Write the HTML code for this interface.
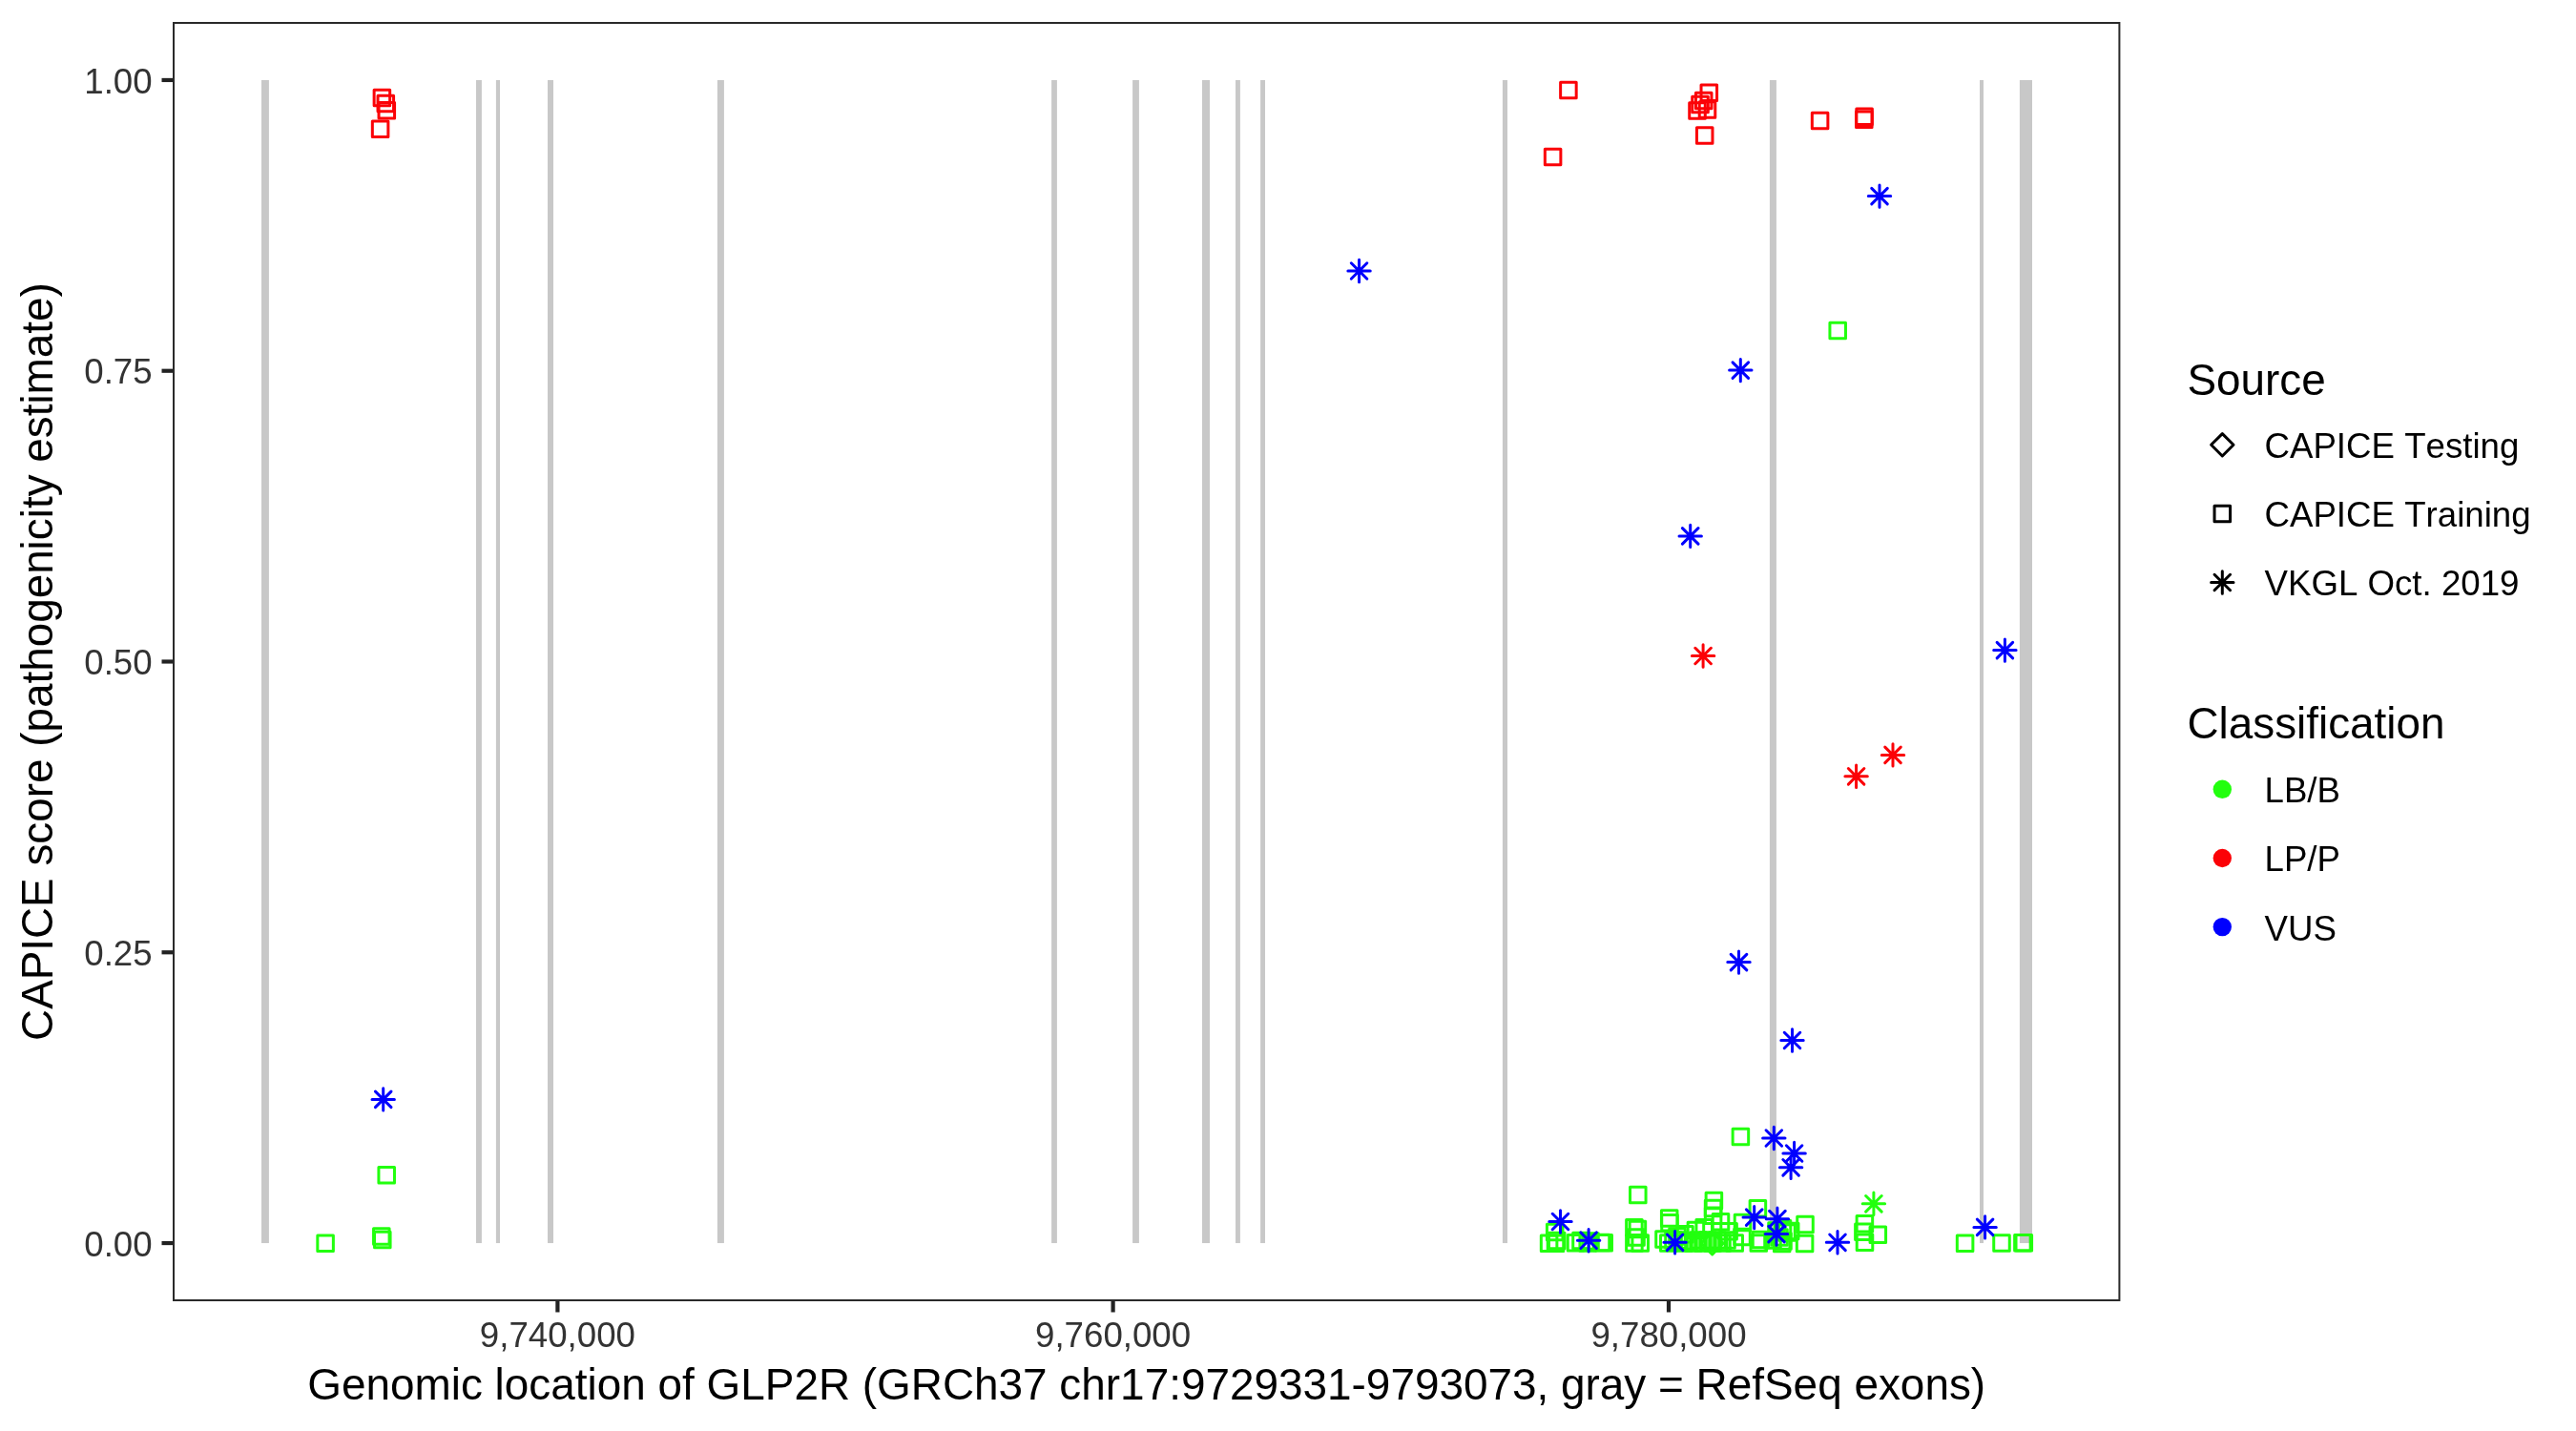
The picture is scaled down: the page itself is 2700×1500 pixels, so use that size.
<!DOCTYPE html><html><head><meta charset="utf-8"><style>html,body{margin:0;padding:0;background:#fff;overflow:hidden}svg{display:block;will-change:transform}text{font-family:"Liberation Sans",sans-serif;font-kerning:none}</style></head><body>
<svg width="2700" height="1500" viewBox="0 0 2700 1500">
<rect width="2700" height="1500" fill="#fff"/>
<g fill="#C8C8C8">
<rect x="274" y="83.95" width="7.9" height="1219.1"/>
<rect x="499" y="83.95" width="5.9" height="1219.1"/>
<rect x="519.9" y="83.95" width="4.1" height="1219.1"/>
<rect x="574" y="83.95" width="6" height="1219.1"/>
<rect x="751.9" y="83.95" width="7" height="1219.1"/>
<rect x="1102.1" y="83.95" width="5.8" height="1219.1"/>
<rect x="1187.1" y="83.95" width="6.8" height="1219.1"/>
<rect x="1260" y="83.95" width="8" height="1219.1"/>
<rect x="1295" y="83.95" width="4.9" height="1219.1"/>
<rect x="1321.1" y="83.95" width="4.9" height="1219.1"/>
<rect x="1574.9" y="83.95" width="5.1" height="1219.1"/>
<rect x="1854.9" y="83.95" width="7" height="1219.1"/>
<rect x="2075" y="83.95" width="4" height="1219.1"/>
<rect x="2116.9" y="83.95" width="13.1" height="1219.1"/>
</g>
<g fill="none" stroke-width="3.0" stroke-linejoin="round" stroke-linecap="round">
<rect x="392.13" y="94.23" width="16.54" height="16.54" stroke="#FB0207"/>
<rect x="396.03" y="100.13" width="16.54" height="16.54" stroke="#FB0207"/>
<rect x="397.03" y="107.43" width="16.54" height="16.54" stroke="#FB0207"/>
<rect x="390.33" y="127.03" width="16.54" height="16.54" stroke="#FB0207"/>
<rect x="1635.63" y="86.13" width="16.54" height="16.54" stroke="#FB0207"/>
<rect x="1619.33" y="156.33" width="16.54" height="16.54" stroke="#FB0207"/>
<rect x="1783.03" y="89.03" width="16.54" height="16.54" stroke="#FB0207"/>
<rect x="1777.43" y="97.13" width="16.54" height="16.54" stroke="#FB0207"/>
<rect x="1773.73" y="101.23" width="16.54" height="16.54" stroke="#FB0207"/>
<rect x="1770.73" y="107.73" width="16.54" height="16.54" stroke="#FB0207"/>
<rect x="1781.23" y="106.63" width="16.54" height="16.54" stroke="#FB0207"/>
<rect x="1778.43" y="133.73" width="16.54" height="16.54" stroke="#FB0207"/>
<rect x="1899.33" y="118.13" width="16.54" height="16.54" stroke="#FB0207"/>
<rect x="1945.83" y="114.03" width="16.54" height="16.54" stroke="#FB0207"/>
<rect x="1945.53" y="116.93" width="16.54" height="16.54" stroke="#FB0207"/>
<rect x="332.83" y="1294.93" width="16.54" height="16.54" stroke="#22FF0E"/>
<rect x="391.53" y="1287.73" width="16.54" height="16.54" stroke="#22FF0E"/>
<rect x="392.53" y="1291.13" width="16.54" height="16.54" stroke="#22FF0E"/>
<rect x="396.93" y="1223.43" width="16.54" height="16.54" stroke="#22FF0E"/>
<rect x="1917.93" y="338.13" width="16.54" height="16.54" stroke="#22FF0E"/>
<rect x="1816.13" y="1183.33" width="16.54" height="16.54" stroke="#22FF0E"/>
<rect x="1708.53" y="1244.33" width="16.54" height="16.54" stroke="#22FF0E"/>
<rect x="1615.33" y="1294.93" width="16.54" height="16.54" stroke="#22FF0E"/>
<rect x="1621.43" y="1283.23" width="16.54" height="16.54" stroke="#22FF0E"/>
<rect x="1622.23" y="1294.93" width="16.54" height="16.54" stroke="#22FF0E"/>
<rect x="1643.23" y="1294.53" width="16.54" height="16.54" stroke="#22FF0E"/>
<rect x="1655.93" y="1294.73" width="16.54" height="16.54" stroke="#22FF0E"/>
<rect x="1672.93" y="1294.53" width="16.54" height="16.54" stroke="#22FF0E"/>
<rect x="1623.43" y="1292.33" width="16.54" height="16.54" stroke="#22FF0E"/>
<rect x="1648.73" y="1292.33" width="16.54" height="16.54" stroke="#22FF0E"/>
<rect x="1670.23" y="1294.23" width="16.54" height="16.54" stroke="#22FF0E"/>
<rect x="1658.73" y="1292.73" width="16.54" height="16.54" stroke="#22FF0E"/>
<rect x="1704.63" y="1278.43" width="16.54" height="16.54" stroke="#22FF0E"/>
<rect x="1708.13" y="1280.23" width="16.54" height="16.54" stroke="#22FF0E"/>
<rect x="1706.73" y="1288.83" width="16.54" height="16.54" stroke="#22FF0E"/>
<rect x="1710.93" y="1294.83" width="16.54" height="16.54" stroke="#22FF0E"/>
<rect x="1704.63" y="1294.83" width="16.54" height="16.54" stroke="#22FF0E"/>
<rect x="1741.43" y="1268.63" width="16.54" height="16.54" stroke="#22FF0E"/>
<rect x="1741.73" y="1273.53" width="16.54" height="16.54" stroke="#22FF0E"/>
<rect x="1740.53" y="1294.83" width="16.54" height="16.54" stroke="#22FF0E"/>
<rect x="1757.73" y="1285.53" width="16.54" height="16.54" stroke="#22FF0E"/>
<rect x="1735.73" y="1290.73" width="16.54" height="16.54" stroke="#22FF0E"/>
<rect x="1745.73" y="1291.73" width="16.54" height="16.54" stroke="#22FF0E"/>
<rect x="1749.73" y="1287.73" width="16.54" height="16.54" stroke="#22FF0E"/>
<rect x="1751.73" y="1291.73" width="16.54" height="16.54" stroke="#22FF0E"/>
<rect x="1761.73" y="1292.73" width="16.54" height="16.54" stroke="#22FF0E"/>
<rect x="1771.73" y="1291.73" width="16.54" height="16.54" stroke="#22FF0E"/>
<rect x="1781.73" y="1291.73" width="16.54" height="16.54" stroke="#22FF0E"/>
<rect x="1791.73" y="1291.73" width="16.54" height="16.54" stroke="#22FF0E"/>
<rect x="1801.73" y="1291.73" width="16.54" height="16.54" stroke="#22FF0E"/>
<rect x="1817.73" y="1288.23" width="16.54" height="16.54" stroke="#22FF0E"/>
<rect x="1756.73" y="1294.73" width="16.54" height="16.54" stroke="#22FF0E"/>
<rect x="1766.73" y="1294.73" width="16.54" height="16.54" stroke="#22FF0E"/>
<rect x="1776.73" y="1294.73" width="16.54" height="16.54" stroke="#22FF0E"/>
<rect x="1786.73" y="1294.73" width="16.54" height="16.54" stroke="#22FF0E"/>
<rect x="1796.73" y="1294.73" width="16.54" height="16.54" stroke="#22FF0E"/>
<rect x="1769.13" y="1281.13" width="16.54" height="16.54" stroke="#22FF0E"/>
<rect x="1777.93" y="1278.43" width="16.54" height="16.54" stroke="#22FF0E"/>
<rect x="1788.13" y="1250.33" width="16.54" height="16.54" stroke="#22FF0E"/>
<rect x="1787.33" y="1258.13" width="16.54" height="16.54" stroke="#22FF0E"/>
<rect x="1787.33" y="1266.03" width="16.54" height="16.54" stroke="#22FF0E"/>
<rect x="1795.23" y="1272.43" width="16.54" height="16.54" stroke="#22FF0E"/>
<rect x="1818.23" y="1273.23" width="16.54" height="16.54" stroke="#22FF0E"/>
<rect x="1803.83" y="1282.53" width="16.54" height="16.54" stroke="#22FF0E"/>
<rect x="1809.93" y="1294.73" width="16.54" height="16.54" stroke="#22FF0E"/>
<rect x="1834.13" y="1258.43" width="16.54" height="16.54" stroke="#22FF0E"/>
<rect x="1835.03" y="1294.73" width="16.54" height="16.54" stroke="#22FF0E"/>
<rect x="1883.73" y="1275.33" width="16.54" height="16.54" stroke="#22FF0E"/>
<rect x="1883.33" y="1295.13" width="16.54" height="16.54" stroke="#22FF0E"/>
<rect x="1859.43" y="1295.13" width="16.54" height="16.54" stroke="#22FF0E"/>
<rect x="1868.43" y="1282.33" width="16.54" height="16.54" stroke="#22FF0E"/>
<rect x="1860.23" y="1279.53" width="16.54" height="16.54" stroke="#22FF0E"/>
<rect x="1837.23" y="1291.23" width="16.54" height="16.54" stroke="#22FF0E"/>
<rect x="1853.73" y="1281.73" width="16.54" height="16.54" stroke="#22FF0E"/>
<rect x="1856.73" y="1288.73" width="16.54" height="16.54" stroke="#22FF0E"/>
<rect x="1860.73" y="1292.73" width="16.54" height="16.54" stroke="#22FF0E"/>
<rect x="1864.73" y="1283.73" width="16.54" height="16.54" stroke="#22FF0E"/>
<rect x="1849.73" y="1291.73" width="16.54" height="16.54" stroke="#22FF0E"/>
<rect x="1946.13" y="1274.53" width="16.54" height="16.54" stroke="#22FF0E"/>
<rect x="1944.63" y="1283.03" width="16.54" height="16.54" stroke="#22FF0E"/>
<rect x="1946.23" y="1294.03" width="16.54" height="16.54" stroke="#22FF0E"/>
<rect x="1960.03" y="1286.03" width="16.54" height="16.54" stroke="#22FF0E"/>
<rect x="2051.33" y="1295.03" width="16.54" height="16.54" stroke="#22FF0E"/>
<rect x="2089.73" y="1294.83" width="16.54" height="16.54" stroke="#22FF0E"/>
<rect x="2111.63" y="1294.53" width="16.54" height="16.54" stroke="#22FF0E"/>
<rect x="2113.03" y="1294.53" width="16.54" height="16.54" stroke="#22FF0E"/>
<path d="M1794.7 1291.5L1806.4 1303.2L1794.7 1314.9L1783 1303.2Z" stroke="#22FF0E"/>
<path d="M1955.63 1253.53L1972.17 1270.07M1955.63 1270.07L1972.17 1253.53M1952.2 1261.8L1975.6 1261.8M1963.9 1250.1L1963.9 1273.5" stroke="#22FF0E"/>
<path d="M1776.83 679.23L1793.37 695.77M1776.83 695.77L1793.37 679.23M1773.4 687.5L1796.8 687.5M1785.1 675.8L1785.1 699.2" stroke="#FB0207"/>
<path d="M1937.33 805.53L1953.87 822.07M1937.33 822.07L1953.87 805.53M1933.9 813.8L1957.3 813.8M1945.6 802.1L1945.6 825.5" stroke="#FB0207"/>
<path d="M1975.73 783.13L1992.27 799.67M1975.73 799.67L1992.27 783.13M1972.3 791.4L1995.7 791.4M1984 779.7L1984 803.1" stroke="#FB0207"/>
<path d="M393.43 1144.13L409.97 1160.67M393.43 1160.67L409.97 1144.13M390 1152.4L413.4 1152.4M401.7 1140.7L401.7 1164.1" stroke="#0000FE"/>
<path d="M1416.28 275.73L1432.82 292.27M1416.28 292.27L1432.82 275.73M1412.85 284L1436.25 284M1424.55 272.3L1424.55 295.7" stroke="#0000FE"/>
<path d="M1961.73 197.33L1978.27 213.87M1961.73 213.87L1978.27 197.33M1958.3 205.6L1981.7 205.6M1970 193.9L1970 217.3" stroke="#0000FE"/>
<path d="M1816.03 379.83L1832.57 396.37M1816.03 396.37L1832.57 379.83M1812.6 388.1L1836 388.1M1824.3 376.4L1824.3 399.8" stroke="#0000FE"/>
<path d="M1763.43 553.63L1779.97 570.17M1763.43 570.17L1779.97 553.63M1760 561.9L1783.4 561.9M1771.7 550.2L1771.7 573.6" stroke="#0000FE"/>
<path d="M2093.13 673.33L2109.67 689.87M2093.13 689.87L2109.67 673.33M2089.7 681.6L2113.1 681.6M2101.4 669.9L2101.4 693.3" stroke="#0000FE"/>
<path d="M1814.23 1000.33L1830.77 1016.87M1814.23 1016.87L1830.77 1000.33M1810.8 1008.6L1834.2 1008.6M1822.5 996.9L1822.5 1020.3" stroke="#0000FE"/>
<path d="M1870.23 1082.23L1886.77 1098.77M1870.23 1098.77L1886.77 1082.23M1866.8 1090.5L1890.2 1090.5M1878.5 1078.8L1878.5 1102.2" stroke="#0000FE"/>
<path d="M1627.23 1272.23L1643.77 1288.77M1627.23 1288.77L1643.77 1272.23M1623.8 1280.5L1647.2 1280.5M1635.5 1268.8L1635.5 1292.2" stroke="#0000FE"/>
<path d="M1656.83 1291.93L1673.37 1308.47M1656.83 1308.47L1673.37 1291.93M1653.4 1300.2L1676.8 1300.2M1665.1 1288.5L1665.1 1311.9" stroke="#0000FE"/>
<path d="M1747.33 1294.03L1763.87 1310.57M1747.33 1310.57L1763.87 1294.03M1743.9 1302.3L1767.3 1302.3M1755.6 1290.6L1755.6 1314" stroke="#0000FE"/>
<path d="M1830.43 1267.83L1846.97 1284.37M1830.43 1284.37L1846.97 1267.83M1827 1276.1L1850.4 1276.1M1838.7 1264.4L1838.7 1287.8" stroke="#0000FE"/>
<path d="M1851.03 1184.73L1867.57 1201.27M1851.03 1201.27L1867.57 1184.73M1847.6 1193L1871 1193M1859.3 1181.3L1859.3 1204.7" stroke="#0000FE"/>
<path d="M1872.33 1200.73L1888.87 1217.27M1872.33 1217.27L1888.87 1200.73M1868.9 1209L1892.3 1209M1880.6 1197.3L1880.6 1220.7" stroke="#0000FE"/>
<path d="M1868.83 1215.53L1885.37 1232.07M1868.83 1232.07L1885.37 1215.53M1865.4 1223.8L1888.8 1223.8M1877.1 1212.1L1877.1 1235.5" stroke="#0000FE"/>
<path d="M1854.63 1269.43L1871.17 1285.97M1854.63 1285.97L1871.17 1269.43M1851.2 1277.7L1874.6 1277.7M1862.9 1266L1862.9 1289.4" stroke="#0000FE"/>
<path d="M1853.73 1285.33L1870.27 1301.87M1853.73 1301.87L1870.27 1285.33M1850.3 1293.6L1873.7 1293.6M1862 1281.9L1862 1305.3" stroke="#0000FE"/>
<path d="M1917.73 1294.03L1934.27 1310.57M1917.73 1310.57L1934.27 1294.03M1914.3 1302.3L1937.7 1302.3M1926 1290.6L1926 1314" stroke="#0000FE"/>
<path d="M2072.33 1278.13L2088.87 1294.67M2072.33 1294.67L2088.87 1278.13M2068.9 1286.4L2092.3 1286.4M2080.6 1274.7L2080.6 1298.1" stroke="#0000FE"/>
</g>
<rect x="182" y="24" width="2039.4" height="1339" fill="none" stroke="#2a2a2a" stroke-width="2"/>
<g stroke="#222" stroke-width="4.2">
<line x1="169.5" y1="1303.05" x2="181" y2="1303.05"/>
<line x1="169.5" y1="998.27" x2="181" y2="998.27"/>
<line x1="169.5" y1="693.5" x2="181" y2="693.5"/>
<line x1="169.5" y1="388.73" x2="181" y2="388.73"/>
<line x1="169.5" y1="83.95" x2="181" y2="83.95"/>
<line x1="584.4" y1="1364" x2="584.4" y2="1375.5"/>
<line x1="1166.6" y1="1364" x2="1166.6" y2="1375.5"/>
<line x1="1749" y1="1364" x2="1749" y2="1375.5"/>
</g>
<g fill="#333" font-size="36.67px">
<text x="159.6" y="1316.65" text-anchor="end">0.00</text>
<text x="159.6" y="1011.88" text-anchor="end">0.25</text>
<text x="159.6" y="707.1" text-anchor="end">0.50</text>
<text x="159.6" y="402.33" text-anchor="end">0.75</text>
<text x="159.6" y="97.55" text-anchor="end">1.00</text>
<text x="584.4" y="1411.9" text-anchor="middle">9,740,000</text>
<text x="1166.6" y="1411.9" text-anchor="middle">9,760,000</text>
<text x="1749" y="1411.9" text-anchor="middle">9,780,000</text>
</g>
<text x="1201.7" y="1466.6" font-size="45.9px" fill="#000" text-anchor="middle">Genomic location of GLP2R (GRCh37 chr17:9729331-9793073, gray = RefSeq exons)</text>
<text transform="translate(54.9 693.6) rotate(-90)" x="0" y="0" font-size="45.83px" fill="#000" text-anchor="middle">CAPICE score (pathogenicity estimate)</text>
<g fill="#000">
<text x="2292.5" y="413.5" font-size="45.83px">Source</text>
<text x="2292.5" y="774.1" font-size="45.83px">Classification</text>
</g>
<g fill="none" stroke-width="3.0" stroke-linejoin="round" stroke-linecap="round">
<path d="M2329.3 454.6L2341 466.3L2329.3 478L2317.6 466.3Z" stroke="#000"/>
<rect x="2321.03" y="530.13" width="16.54" height="16.54" stroke="#000"/>
<path d="M2321.03 602.23L2337.57 618.77M2321.03 618.77L2337.57 602.23M2317.6 610.5L2341 610.5M2329.3 598.8L2329.3 622.2" stroke="#000"/>
</g>
<circle cx="2329.3" cy="827.3" r="9.7" fill="#22FF0E"/>
<circle cx="2329.3" cy="899.5" r="9.7" fill="#FB0207"/>
<circle cx="2329.3" cy="971.6" r="9.7" fill="#0000FE"/>
<g fill="#000" font-size="36.67px">
<text x="2373.5" y="480.2">CAPICE Testing</text>
<text x="2373.5" y="552.3">CAPICE Training</text>
<text x="2373.5" y="624.4">VKGL Oct. 2019</text>
<text x="2373.5" y="841.2">LB/B</text>
<text x="2373.5" y="913.4">LP/P</text>
<text x="2373.5" y="985.5">VUS</text>
</g>
</svg></body></html>
